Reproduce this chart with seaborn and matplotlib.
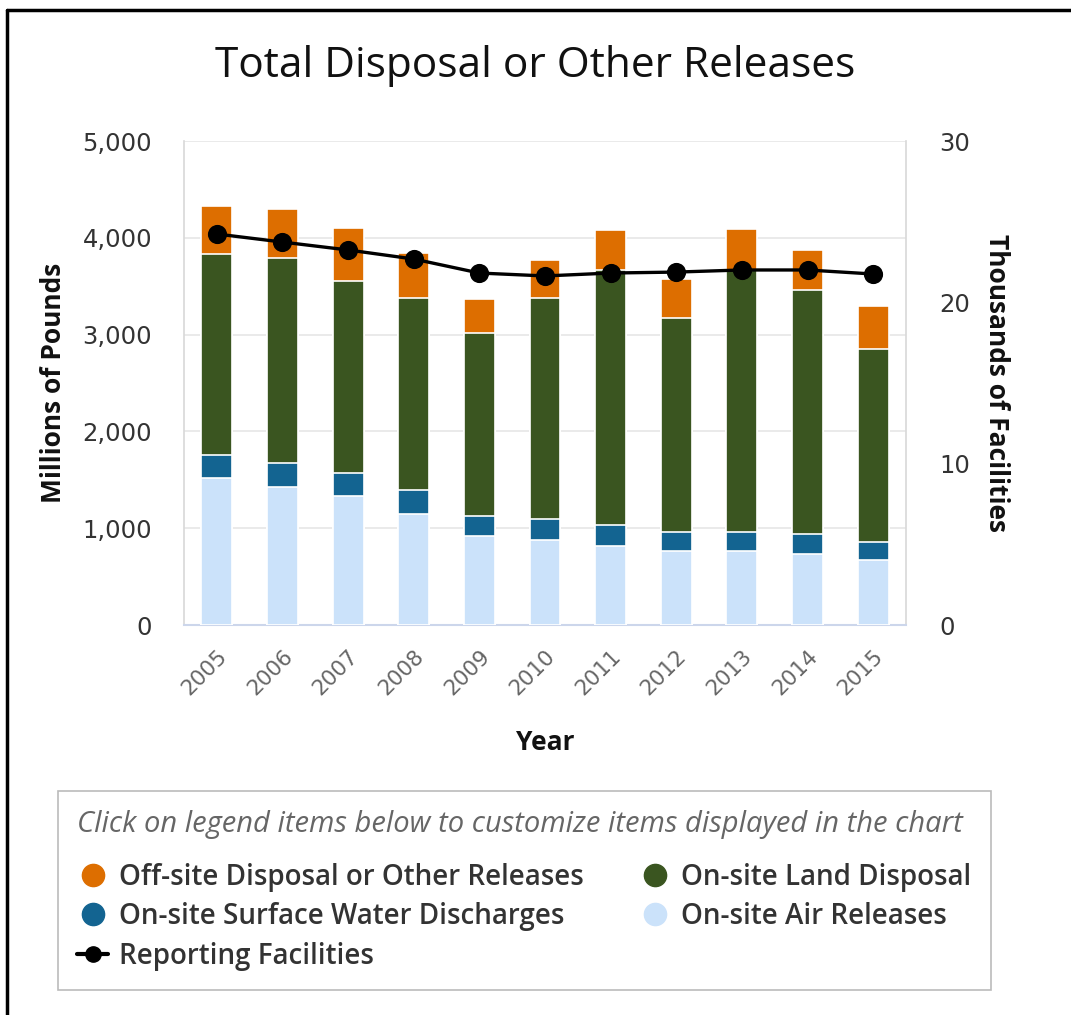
import numpy as np
import pandas as pd
import matplotlib
matplotlib.use("Agg")
import matplotlib.pyplot as plt
import seaborn as sns
from matplotlib.lines import Line2D

years = ["2005", "2006", "2007", "2008", "2009", "2010", "2011", "2012", "2013", "2014", "2015"]
air = [1520, 1426, 1333, 1147, 919, 878, 816, 764, 764, 733, 671]
water = [236, 248, 237, 248, 207, 217, 217, 197, 197, 207, 186]
land = [2077, 2117, 1984, 1983, 1891, 2283, 2634, 2210, 2706, 2521, 1994]
offsite = [495, 507, 547, 465, 351, 393, 414, 403, 424, 413, 444]
facilities = [24.24, 23.74, 23.25, 22.69, 21.82, 21.64, 21.82, 21.88, 22.01, 22.01, 21.76]

left_ticks = [0, 1000, 2000, 3000, 4000, 5000]
right_ticks = [0, 10, 20, 30]

c_off = "#DD6E00"
c_land = "#3A5520"
c_water = "#136491"
c_air = "#CBE2FA"

sns.set_theme(style="white")
plt.rcParams["font.family"] = ["Open Sans", "DejaVu Sans"]

df = pd.DataFrame({"year": years, "air": air, "water": water, "land": land,
                   "offsite": offsite, "facilities": facilities})
df["c_air"] = df["air"]
df["c_water"] = df["c_air"] + df["water"]
df["c_land"] = df["c_water"] + df["land"]
df["c_off"] = df["c_land"] + df["offsite"]

fig = plt.figure(figsize=(10.71, 10.15), dpi=100)
ax = fig.add_axes([0.1718, 0.3842, 0.6741, 0.4768])

for col, color in [("c_off", c_off), ("c_land", c_land), ("c_water", c_water), ("c_air", c_air)]:
    sns.barplot(data=df, x="year", y=col, color=color, width=0.47, ax=ax,
                edgecolor="white", linewidth=1.2, saturation=1, zorder=3)

tick_font = "DejaVu Sans"
ax.set_ylim(0, 5000)
ax.set_xlim(-0.5, len(years) - 0.5)
ax.set_yticks(left_ticks)
ax.set_yticklabels([f"{v:,}" for v in left_ticks], fontsize=17.5, color="#333333",
                   fontfamily=tick_font)
ax.yaxis.grid(True, color="#E6E6E6", linewidth=1.2, zorder=0)
ax.set_axisbelow(True)
ax.tick_params(axis="y", length=0, pad=23)

ax.set_xticks(np.arange(len(years)))
ax.set_xticklabels(years, rotation=45, ha="right", va="top", rotation_mode="anchor",
                   fontsize=15.5, color="#666666", fontfamily=tick_font)
ax.tick_params(axis="x", length=0, pad=15)
ax.set_xticks(np.arange(len(years) + 1) - 0.5, minor=True)
ax.tick_params(axis="x", which="minor", length=10, width=1.2, color="#CCD6EB")

for s in ["left", "right"]:
    ax.spines[s].set_color("#D8D8D8")
    ax.spines[s].set_linewidth(1.2)
ax.spines["top"].set_visible(False)
ax.spines["bottom"].set_color("#CCD6EB")
ax.spines["bottom"].set_linewidth(1.5)

ax.set_xlabel("Year", fontsize=19, fontweight="bold", color="#111111", labelpad=22)
ax.set_ylabel("Millions of Pounds", fontsize=19, fontweight="bold", color="#111111", labelpad=11)

ax2 = ax.twinx()
sns.pointplot(data=df, x="year", y="facilities", color="black", markers="o",
              markersize=12, linewidth=2.4, ax=ax2, zorder=5)
ax2.set_xlim(-0.5, len(years) - 0.5)
ax2.set_ylim(0, 30)
ax2.set_yticks(right_ticks)
ax2.set_yticklabels([str(v) for v in right_ticks], fontsize=17.5, color="#333333",
                    fontfamily=tick_font)
ax2.tick_params(axis="y", length=0, pad=24)
ax2.set_ylabel("Thousands of Facilities", fontsize=19, fontweight="bold", color="#111111",
               rotation=-90, labelpad=29)
ax2.set_xlabel("")
for s in ["left", "right", "top", "bottom"]:
    ax2.spines[s].set_visible(False)
ax2.grid(False)

fig.text(0.5, 0.935, "Total Disposal or Other Releases", ha="center", va="center",
         fontsize=30.5, color="#111111")

handles = [
    Line2D([], [], marker="o", linestyle="none", markersize=16, color=c_off),
    Line2D([], [], marker="o", linestyle="none", markersize=16, color=c_water),
    Line2D([], [], marker="o", linestyle="-", markersize=11, linewidth=3, color="black"),
    Line2D([], [], marker="o", linestyle="none", markersize=16, color=c_land),
    Line2D([], [], marker="o", linestyle="none", markersize=16, color=c_air),
]
labels = ["Off-site Disposal or Other Releases", "On-site Surface Water Discharges",
          "Reporting Facilities", "On-site Land Disposal", "On-site Air Releases"]
leg = fig.legend(handles, labels, ncol=2, loc="upper left",
                 bbox_to_anchor=(58 / 1071, 1 - 791 / 1015), borderaxespad=0,
                 frameon=True, fancybox=False, edgecolor="#AAAAAA",
                 prop={"size": 20, "weight": "semibold"},
                 title="Click on legend items below to customize items displayed in the chart",
                 title_fontproperties={"size": 21, "style": "italic"},
                 handlelength=1.1, handletextpad=0.4, columnspacing=2.0,
                 labelspacing=0.38, borderpad=0.7, alignment="left")
leg._legend_box.sep = 0.38 * 20 + 9
leg.get_title().set_color("#666666")
leg.get_frame().set_linewidth(1.2)
for t in leg.get_texts():
    t.set_color("#333333")

fig.add_artist(Line2D([7 / 1071, 7 / 1071], [0, 1 - 10 / 1015], transform=fig.transFigure,
                      color="black", linewidth=2.5))
fig.add_artist(Line2D([7 / 1071, 1], [1 - 10 / 1015, 1 - 10 / 1015], transform=fig.transFigure,
                      color="black", linewidth=2.5))

fig.savefig("out.png", dpi=100)
